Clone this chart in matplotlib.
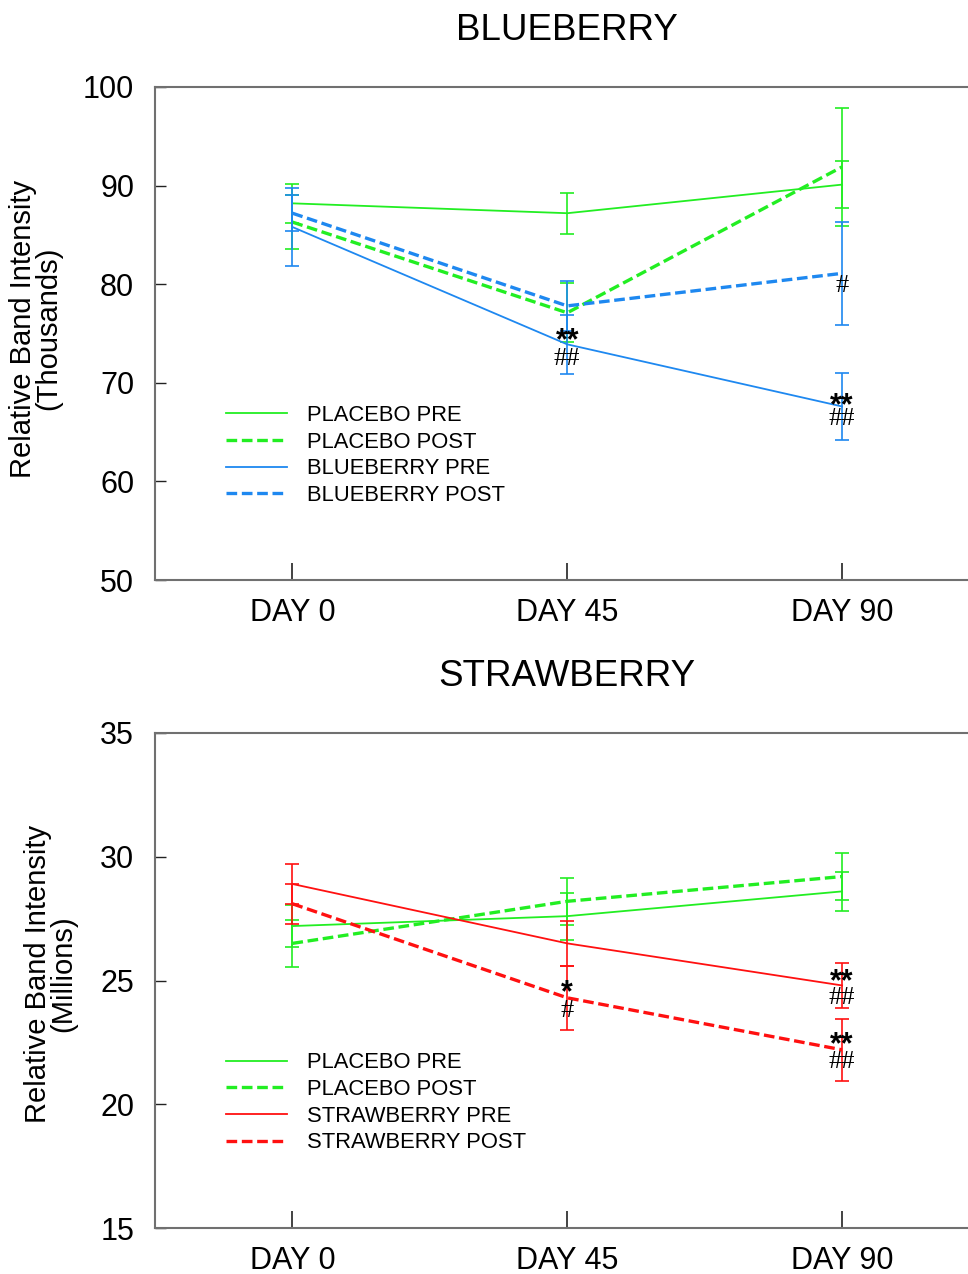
import numpy as np
import matplotlib.pyplot as plt

plt.rcParams['font.family'] = ['Liberation Sans', 'DejaVu Sans']

days = ["DAY 0", "DAY 45", "DAY 90"]

# blueberry panel (thousands)
bb_placebo_pre = [88.2, 87.2, 90.1]
bb_placebo_pre_err = [2.0, 2.1, 2.4]
bb_placebo_post = [86.3, 77.1, 91.9]
bb_placebo_post_err = [2.7, 3.0, 6.0]
bb_pre = [85.8, 73.9, 67.6]
bb_pre_err = [4.0, 3.0, 3.4]
bb_post = [87.2, 77.8, 81.1]
bb_post_err = [1.8, 2.5, 5.2]

# strawberry panel (millions)
sb_placebo_pre = [27.2, 27.6, 28.6]
sb_placebo_pre_err = [0.85, 0.95, 0.78]
sb_placebo_post = [26.5, 28.2, 29.2]
sb_placebo_post_err = [0.95, 0.95, 0.95]
sb_pre = [28.9, 26.5, 24.8]
sb_pre_err = [0.8, 0.9, 0.92]
sb_post = [28.1, 24.3, 22.2]
sb_post_err = [0.8, 1.3, 1.25]

# significance marks: (day index, baseline value, text)
marks_bb = [(1, 73.45, '**'), (1, 71.8, '##'), (2, 79.25, '#'),
            (2, 66.85, '**'), (2, 65.7, '##')]
marks_sb = [(1, 24.17, '*'), (1, 23.53, '#'), (2, 24.6, '**'),
            (2, 24.07, '##'), (2, 22.05, '**'), (2, 21.48, '##')]

GREEN = '#22ee22'
BLUE = '#1e88f0'
RED = '#ff1010'

x = np.arange(3)

fig = plt.figure(figsize=(9.68, 12.74), dpi=100)
ax1 = fig.add_axes([155/968, 1-580/1274, 824.5/968, 493/1274])
ax2 = fig.add_axes([155/968, 1-1228/1274, 824.5/968, 495/1274])


def draw(ax, series, ylim, yticks, title, ylabel, label_x, label_y):
    handles = []
    for vals, err, color, ls, lw, lab in series:
        ax.errorbar(x, vals, yerr=err, fmt='none', ecolor=color, elinewidth=1.2,
                    capsize=5, capthick=1.2)
        dashes = (3.2, 1.4) if ls == '--' else (None, None)
        ln, = ax.plot(x, vals, color=color, ls=ls, lw=lw, dashes=dashes, label=lab)
        handles.append(ln)
    ax.set_xlim(-0.5, 2.5)
    ax.set_ylim(*ylim)
    ax.set_yticks(yticks)
    ax.set_xticks(x)
    ax.set_xticklabels(days)
    ax.tick_params(axis='x', direction='in', length=12, width=1.2, labelsize=22, pad=13, color='#222222')
    ax.tick_params(axis='y', direction='in', length=8, width=1.0, labelsize=22, pad=15, color='#222222')
    for s in ['left', 'bottom', 'top']:
        ax.spines[s].set_color('#707070')
        ax.spines[s].set_linewidth(1.5)
    ax.spines['right'].set_visible(False)
    ax.set_title(title, fontsize=26.5, pad=34, x=(567-155)/824.5)
    ax.set_ylabel(ylabel, fontsize=21, linespacing=0.9)
    ax.yaxis.set_label_coords(label_x, label_y)
    ax.legend(handles=handles, loc='upper left', bbox_to_anchor=(0.062, 0.395), frameon=False,
              fontsize=15.8, handlelength=2.8, handletextpad=0.9, labelspacing=0.26)


def put_marks(ax, marks):
    for xi, yv, t in marks:
        if '*' in t:
            ax.text(xi, yv, t, ha='center', va='baseline', fontsize=22,
                    fontweight='bold', family=['Liberation Sans', 'DejaVu Sans'])
        else:
            ax.text(xi, yv, t, ha='center', va='baseline', fontsize=19,
                    family=['Liberation Serif', 'DejaVu Serif'])


draw(ax1, [
    (bb_placebo_pre, bb_placebo_pre_err, GREEN, '-', 1.3, 'PLACEBO PRE'),
    (bb_placebo_post, bb_placebo_post_err, GREEN, '--', 2.4, 'PLACEBO POST'),
    (bb_pre, bb_pre_err, BLUE, '-', 1.3, 'BLUEBERRY PRE'),
    (bb_post, bb_post_err, BLUE, '--', 2.4, 'BLUEBERRY POST'),
], (50, 100), [50, 60, 70, 80, 90, 100], 'BLUEBERRY',
    'Relative Band Intensity\n(Thousands)', -0.112, 0.51)
put_marks(ax1, marks_bb)

draw(ax2, [
    (sb_placebo_pre, sb_placebo_pre_err, GREEN, '-', 1.3, 'PLACEBO PRE'),
    (sb_placebo_post, sb_placebo_post_err, GREEN, '--', 2.4, 'PLACEBO POST'),
    (sb_pre, sb_pre_err, RED, '-', 1.3, 'STRAWBERRY PRE'),
    (sb_post, sb_post_err, RED, '--', 2.4, 'STRAWBERRY POST'),
], (15, 35), [15, 20, 25, 30, 35], 'STRAWBERRY',
    'Relative Band Intensity\n(Millions)', -0.094, 0.514)
put_marks(ax2, marks_sb)

fig.savefig('out.png', dpi=100)
